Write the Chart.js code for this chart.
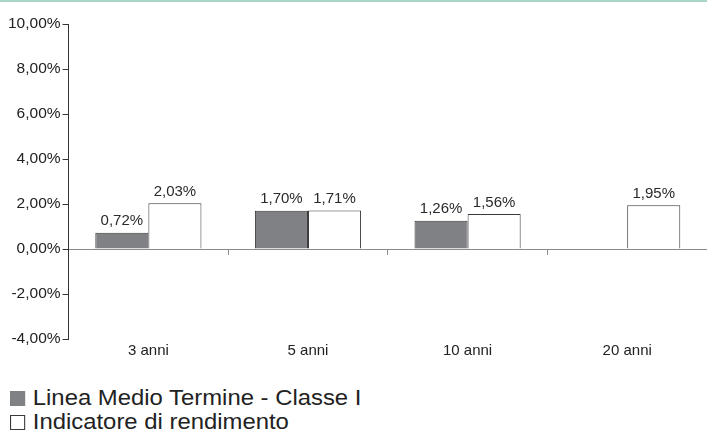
<!DOCTYPE html>
<html>
<head>
<meta charset="utf-8">
<script src="https://cdn.jsdelivr.net/npm/chart.js@4.4.0/dist/chart.umd.min.js"></script>
<style>
  html, body { margin: 0; padding: 0; background: #fff; }
  body { width: 707px; height: 435px; position: relative; overflow: hidden; font-family: "Liberation Sans", Arial, sans-serif; }
  #topline { position: absolute; left: 0; top: 0; width: 707px; height: 2px; background: #a9d6c6; }
  #wrap { position: absolute; left: 0; top: 0; width: 707px; height: 363px; }
  #legend { position: absolute; left: 10px; top: 386px; font-size: 22px; color: #222; transform: scaleX(1.085); transform-origin: 0 0; }
  .li { display: flex; align-items: center; height: 24px; white-space: nowrap; }
  .sw { width: 14px; height: 15px; box-sizing: border-box; margin-right: 7px; }
</style>
</head>
<body>
<div id="topline"></div>
<div id="wrap"><canvas id="c"></canvas></div>
<div id="legend"></div>
<script>
const categories = ["3 anni", "5 anni", "10 anni", "20 anni"];
const seriesNames = ["Linea Medio Termine - Classe I", "Indicatore di rendimento"];
const linea = [0.72, 1.70, 1.26, null];
const indicatore = [2.03, 1.71, 1.56, 1.95];
const yTicks = [-4, -2, 0, 2, 4, 6, 8, 10];

const fmt = v => v.toFixed(2).replace('.', ',') + '%';
const FONT = '"Liberation Sans", Arial, sans-serif';

const valueLabels = {
  id: 'valueLabels',
  afterDatasetsDraw(chart) {
    const ctx = chart.ctx;
    ctx.save();
    ctx.font = '15px ' + FONT;
    ctx.fillStyle = '#2a2a2a';
    ctx.textAlign = 'center';
    ctx.textBaseline = 'bottom';
    chart.data.datasets.forEach((ds, i) => {
      const meta = chart.getDatasetMeta(i);
      meta.data.forEach((bar, j) => {
        const v = ds.data[j];
        if (v === null || v === undefined) return;
        ctx.fillText(fmt(v), bar.x, bar.y - 4);
      });
    });
    ctx.restore();
  }
};

const chart = new Chart(document.getElementById('c'), {
  type: 'bar',
  data: {
    labels: categories,
    datasets: [
      { label: seriesNames[0], data: linea, backgroundColor: '#808184', borderColor: '#3a3a3a', borderWidth: 1, categoryPercentage: 0.665, barPercentage: 1.0 },
      { label: seriesNames[1], data: indicatore, backgroundColor: '#ffffff', borderColor: '#3a3a3a', borderWidth: 1, categoryPercentage: 0.665, barPercentage: 1.0 }
    ]
  },
  options: {
    responsive: true,
    maintainAspectRatio: false,
    animation: false,
    layout: { padding: { top: 24, right: 0, left: 6, bottom: 0 } },
    plugins: { legend: { display: false }, tooltip: { enabled: false } },
    scales: {
      x: {
        type: 'category',
        position: 'bottom',
        grid: { display: false, drawTicks: false },
        border: { display: false },
        ticks: { color: '#222', font: { family: FONT, size: 15 }, padding: 3, maxRotation: 0 }
      },
      x2: {
        type: 'category',
        labels: categories,
        position: { y: 0 },
        offset: true,
        grid: { offset: true, drawOnChartArea: false, drawTicks: true, tickLength: 5, color: '#8a8a8a' },
        border: { display: true, color: '#8a8a8a', width: 1 },
        ticks: { display: false }
      },
      y: {
        min: -4,
        max: 10,
        afterBuildTicks: axis => { axis.ticks = yTicks.map(v => ({ value: v })); },
        grid: { drawOnChartArea: false, drawTicks: true, tickLength: 6, color: '#333' },
        border: { display: true, color: '#333', width: 1 },
        ticks: { color: '#222', font: { family: FONT, size: 15.5 }, padding: 2, callback: v => fmt(v) }
      }
    }
  },
  plugins: [valueLabels]
});

const legendEl = document.getElementById('legend');
chart.data.datasets.forEach(ds => {
  const row = document.createElement('div');
  row.className = 'li';
  const sw = document.createElement('span');
  sw.className = 'sw';
  sw.style.background = ds.backgroundColor;
  sw.style.border = ds.backgroundColor === '#ffffff' ? '1px solid #3a3a3a' : 'none';
  const tx = document.createElement('span');
  tx.textContent = ds.label;
  row.appendChild(sw);
  row.appendChild(tx);
  legendEl.appendChild(row);
});
</script>
</body>
</html>
